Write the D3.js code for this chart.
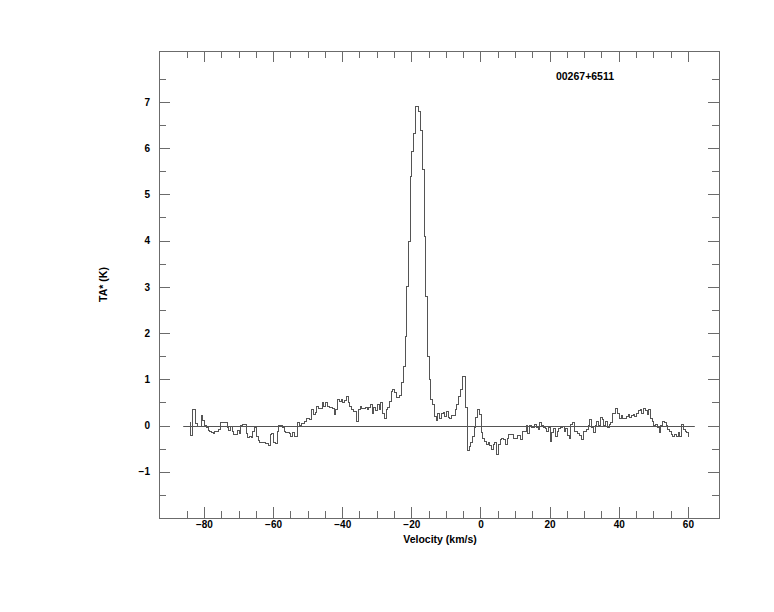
<!DOCTYPE html>
<html><head><meta charset="utf-8">
<script src="https://cdn.jsdelivr.net/npm/d3@7"></script>
<style>body{margin:0;background:#fff}svg text{font-family:"Liberation Sans",Arial,sans-serif;font-weight:bold;fill:#000}</style>
</head><body><svg id="c" width="774" height="612"></svg>
<script>
// ---- data ----
const title = "00267+6511";
const xLabel = "Velocity (km/s)";
const yLabel = "TA* (K)";
const xMajorTicks = [-80, -60, -40, -20, 0, 20, 40, 60];
const xMinorTicks = [-85,-75,-70,-65,-55,-50,-45,-35,-30,-25,-15,-10,-5,5,10,15,25,30,35,45,50,55];
const yMajorTicks = [-1, 0, 1, 2, 3, 4, 5, 6, 7];
const yMinorTicks = [-1.5, -0.5, 0.5, 1.5, 2.5, 3.5, 4.5, 5.5, 6.5, 7.5];
const baselineRange = [-86, 62];
const vStart = -84.07;   // velocity of first channel (km/s)
const vStep = 0.5;       // channel width (km/s)
const intensity = [
 0.06,-0.21,0.35,0.35,0.04,-0.03,-0.03,0.22,0.10,0.00,
 -0.05,-0.10,-0.12,-0.15,-0.17,-0.13,-0.12,-0.08,0.07,0.07,
 0.06,0.07,-0.05,-0.10,-0.03,-0.12,-0.20,-0.20,-0.10,-0.18,
 0.00,0.02,0.02,-0.18,-0.25,-0.24,-0.25,-0.13,-0.05,-0.24,
 -0.33,-0.37,-0.37,-0.36,-0.39,-0.39,-0.44,-0.19,-0.18,-0.37,
 -0.39,-0.14,0.00,0.00,-0.05,-0.12,-0.16,-0.16,-0.18,-0.23,
 -0.15,-0.23,-0.23,0.06,-0.01,0.04,0.04,0.09,0.16,0.16,
 0.13,0.35,0.24,0.29,0.42,0.37,0.37,0.49,0.42,0.49,
 0.42,0.39,0.38,0.37,0.24,0.35,0.56,0.52,0.56,0.49,
 0.54,0.63,0.49,0.42,0.35,0.31,0.31,0.09,0.35,0.42,
 0.37,0.37,0.39,0.35,0.39,0.45,0.27,0.38,0.33,0.45,
 0.35,0.49,0.27,0.16,0.35,0.38,0.52,0.74,0.78,0.71,
 0.60,0.60,0.65,0.93,1.28,1.93,3.00,3.98,5.38,5.92,
 6.32,6.90,6.90,6.79,6.39,5.53,4.09,2.79,1.50,0.99,
 0.56,0.46,0.20,0.10,0.25,0.15,0.25,0.28,0.20,0.31,
 0.18,0.16,0.21,0.21,0.35,0.45,0.63,0.78,1.07,1.05,
 0.38,-0.54,-0.45,-0.37,-0.23,-0.05,0.17,0.35,0.24,-0.16,
 -0.27,-0.35,-0.41,-0.37,-0.43,-0.52,-0.40,-0.37,-0.63,-0.40,
 -0.30,-0.28,-0.30,-0.40,-0.28,-0.19,-0.19,-0.20,-0.28,-0.28,
 -0.21,-0.21,-0.30,-0.12,-0.14,-0.01,-0.18,0.00,-0.04,-0.04,
 0.02,-0.05,-0.09,0.06,-0.01,-0.05,-0.07,-0.12,-0.05,-0.34,
 -0.16,-0.07,-0.23,-0.12,-0.07,-0.05,-0.03,-0.14,-0.07,-0.22,
 -0.27,0.02,0.06,-0.12,-0.14,-0.17,-0.22,-0.30,-0.14,-0.12,
 -0.09,-0.01,0.13,-0.05,-0.16,-0.01,0.09,-0.01,0.17,0.13,
 -0.01,0.09,-0.05,0.02,0.06,0.27,0.27,0.37,0.27,0.16,
 0.22,0.16,0.15,0.20,0.24,0.18,0.22,0.24,0.20,0.27,
 0.32,0.35,0.27,0.36,0.32,0.24,0.35,0.15,0.09,-0.01,
 0.02,-0.05,-0.16,-0.01,0.09,0.06,-0.01,-0.09,-0.12,-0.19,
 -0.23,-0.19,-0.23,-0.16,-0.23,0.02,-0.09,-0.12,-0.16,-0.23
];
const velocity = intensity.map((_, i) => vStart + i * vStep);
const spectrum = velocity.map((v, i) => ({v, t: intensity[i]}));

// ---- layout ----
const L = 159, R = 719, T = 51, B = 518;
const x = d3.scaleLinear().domain([-93, 69]).range([L, R]);
const y = d3.scaleLinear().domain([-2, 8.1]).range([B, T]);
const svg = d3.select("#c");
const frameColor = "#6b6b6b";

function styleAxis(g) {
  g.select(".domain").remove();
  g.selectAll("line").attr("stroke", frameColor).attr("shape-rendering", "crispEdges");
  g.selectAll("text").attr("font-size", 10).attr("fill", "#000")
    .attr("font-family", "'Liberation Sans',Arial,sans-serif").attr("font-weight", "bold");
}

// bottom axis
svg.append("g").attr("transform", `translate(0,${B})`)
  .call(d3.axisBottom(x).tickValues(xMajorTicks).tickSizeInner(-11).tickSizeOuter(0).tickPadding(3).tickFormat(d3.format("d")))
  .call(styleAxis);
svg.append("g").attr("transform", `translate(0,${B})`)
  .call(d3.axisBottom(x).tickValues(xMinorTicks).tickSizeInner(-7).tickSizeOuter(0).tickFormat(""))
  .call(styleAxis);
// top axis
svg.append("g").attr("transform", `translate(0,${T})`)
  .call(d3.axisTop(x).tickValues(xMajorTicks).tickSizeInner(-11).tickSizeOuter(0).tickFormat(""))
  .call(styleAxis);
svg.append("g").attr("transform", `translate(0,${T})`)
  .call(d3.axisTop(x).tickValues(xMinorTicks).tickSizeInner(-7).tickSizeOuter(0).tickFormat(""))
  .call(styleAxis);
// left axis
svg.append("g").attr("transform", `translate(${L},0)`)
  .call(d3.axisLeft(y).tickValues(yMajorTicks).tickSizeInner(-11).tickSizeOuter(0).tickPadding(9).tickFormat(d3.format("d")))
  .call(styleAxis);
svg.append("g").attr("transform", `translate(${L},0)`)
  .call(d3.axisLeft(y).tickValues(yMinorTicks).tickSizeInner(-7).tickSizeOuter(0).tickFormat(""))
  .call(styleAxis);
// right axis
svg.append("g").attr("transform", `translate(${R},0)`)
  .call(d3.axisRight(y).tickValues(yMajorTicks).tickSizeInner(-11).tickSizeOuter(0).tickFormat(""))
  .call(styleAxis);
svg.append("g").attr("transform", `translate(${R},0)`)
  .call(d3.axisRight(y).tickValues(yMinorTicks).tickSizeInner(-7).tickSizeOuter(0).tickFormat(""))
  .call(styleAxis);

// frame
svg.append("rect").attr("x", L + 0.5).attr("y", T + 0.5).attr("width", R - L).attr("height", B - T)
  .attr("fill", "none").attr("stroke", frameColor).attr("stroke-width", 1);

// zero baseline
svg.append("line")
  .attr("x1", x(baselineRange[0])).attr("x2", x(baselineRange[1]))
  .attr("y1", Math.round(y(0)) + 0.5).attr("y2", Math.round(y(0)) + 0.5)
  .attr("stroke", "#555").attr("stroke-width", 1);

// spectrum (histogram style)
const line = d3.line().x(d => x(d.v)).y(d => y(d.t)).curve(d3.curveStep);
svg.append("path").datum(spectrum).attr("d", line)
  .attr("fill", "none").attr("stroke", "#555").attr("stroke-width", 1)
  .attr("shape-rendering", "crispEdges");

// texts
svg.append("text").attr("x", 585).attr("y", 80).attr("text-anchor", "middle")
  .attr("font-size", 10.5).text(title);
svg.append("text").attr("x", (L + R) / 2 + 1).attr("y", 543).attr("text-anchor", "middle")
  .attr("font-size", 10.5).text(xLabel);
svg.append("text").attr("transform", `translate(107,${(T + B) / 2}) rotate(-90)`)
  .attr("text-anchor", "middle").attr("font-size", 10.5).text(yLabel);
</script>
</body></html>
